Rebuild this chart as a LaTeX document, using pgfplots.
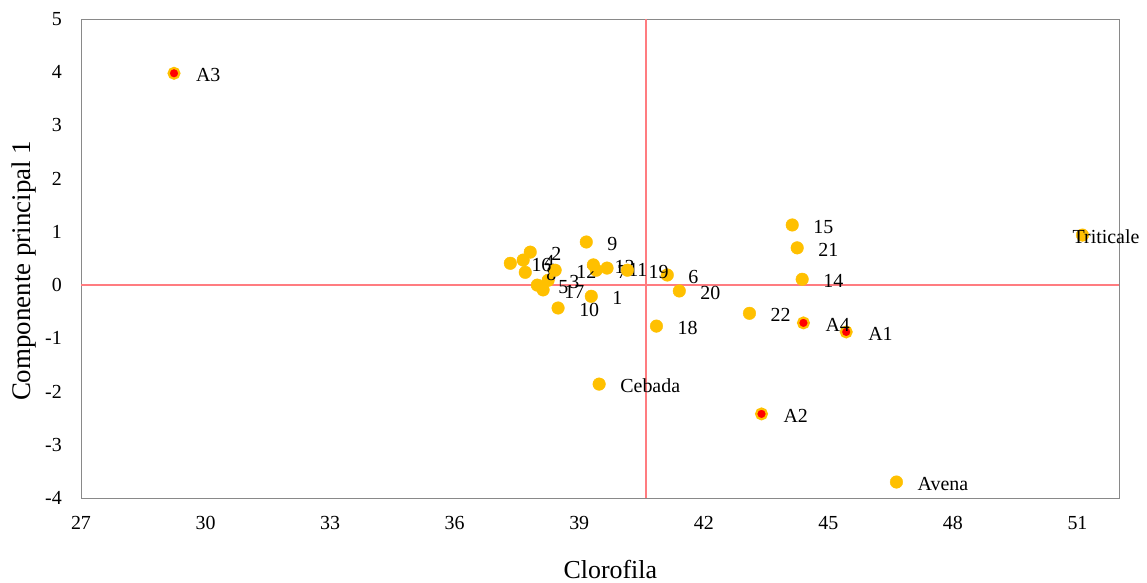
\documentclass[border=0pt]{standalone}
\usepackage{fontspec}
\setmainfont{Liberation Serif}
\usepackage{pgfplots}
\pgfplotsset{compat=1.18}
\definecolor{orng}{HTML}{FFC000}
\definecolor{framegray}{HTML}{898989}
\definecolor{refred}{HTML}{FF7C80}

\begin{document}
\begin{tikzpicture}
\path[use as bounding box] (-81bp,-85bp) rectangle (1066bp,498bp);
\begin{axis}[
  at={(0,0)}, anchor=south west,
  scale only axis, width=1038bp, height=479bp,
  xmin=27, xmax=52, ymin=-4, ymax=5,
  xtick={27,30,33,36,39,42,45,48,51}, ytick={-4,-3,-2,-1,0,1,2,3,4,5},
  axis line style={framegray, line width=0.9bp},
  major tick length=0pt,
  tick label style={font=\fontsize{20}{22}\selectfont, inner sep=0pt},
  /pgf/number format/assume math mode=true,
  xticklabel style={anchor=center, yshift=-25bp},
  yticklabel style={anchor=east, xshift=-19bp},
  xlabel={Clorofila}, ylabel={Componente principal 1},
  label style={inner sep=0pt},
  xlabel style={font=\fontsize{26}{28}\selectfont, at={(axis description cs:0.51,0)}, anchor=center, yshift=-72bp},
  ylabel style={font=\fontsize{27}{29}\selectfont, at={(axis description cs:0,0.474)}, anchor=center, yshift=57bp},
  clip=false,
  point meta=explicit symbolic,
  every node near coord/.style={anchor=west, inner sep=0pt, xshift=21bp, yshift=-2bp, font=\fontsize{20}{22}\selectfont, text=black},
]
\addplot[refred, line width=1.5bp, forget plot] coordinates {(40.61,-4) (40.61,5)};
\addplot[refred, line width=1.5bp, forget plot] coordinates {(27,0) (52,0)};

\addplot[only marks, mark=*, mark size=6.3bp, mark options={fill=orng, draw=orng}, nodes near coords]
table[meta=label] {
x y label
39.29 -0.21 1
37.82 0.62 2
38.25 0.09 3
37.65 0.47 4
37.99 0.00 5
41.12 0.19 6
39.41 0.28 7
37.70 0.24 8
39.17 0.81 9
38.49 -0.43 10
39.67 0.32 11
38.42 0.28 12
39.34 0.38 13
44.37 0.11 14
44.13 1.13 15
37.34 0.41 16
38.13 -0.09 17
40.86 -0.77 18
40.16 0.28 19
41.41 -0.11 20
44.25 0.70 21
43.10 -0.53 22
39.48 -1.86 Cebada
46.64 -3.70 Avena
};

\addplot[only marks, mark=*, mark size=6.3bp, mark options={fill=orng, draw=orng},
  nodes near coords, every node near coord/.append style={xshift=-31bp}]
table[meta=label] {
x y label
51.12 0.94 Triticale
};

\addplot[only marks, mark=*, mark size=5.4bp, mark options={fill=red, draw=orng, line width=2.2bp}, nodes near coords]
table[meta=label] {
x y label
45.43 -0.88 A1
43.39 -2.42 A2
29.24 3.98 A3
44.40 -0.71 A4
};
\end{axis}
\end{tikzpicture}
\end{document}
